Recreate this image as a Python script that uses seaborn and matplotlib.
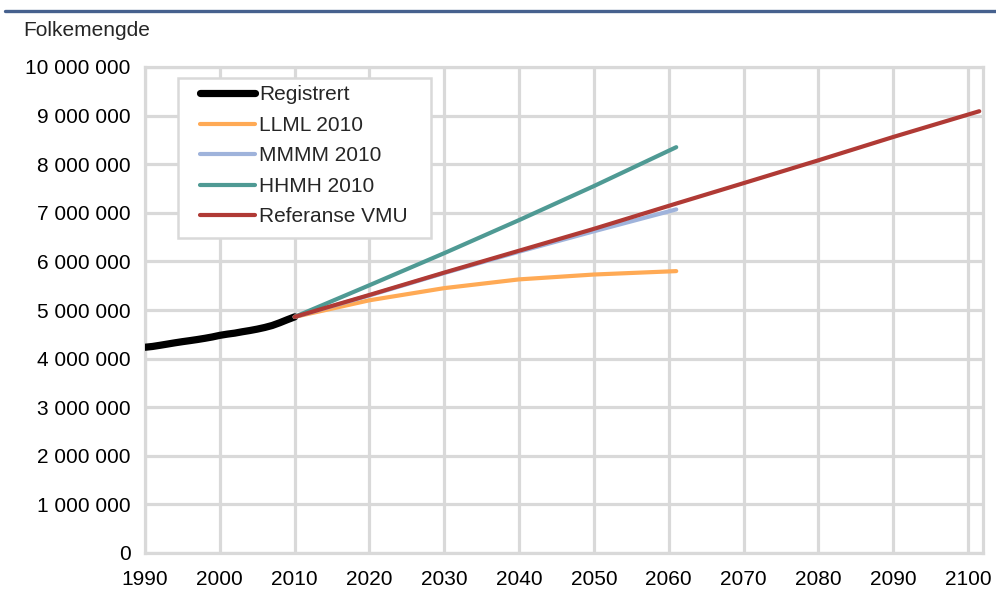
import matplotlib
matplotlib.use("Agg")
import matplotlib.pyplot as plt
from matplotlib.ticker import FuncFormatter, MultipleLocator
from matplotlib.lines import Line2D
from matplotlib.patches import Rectangle
import seaborn as sns
import pandas as pd

# ---- data ----
reg_years = [1990, 1991, 1992, 1993, 1994, 1995, 1996, 1997, 1998, 1999, 2000,
             2001, 2002, 2003, 2004, 2005, 2006, 2007, 2008, 2009, 2010]
reg_values = [4233116, 4249830, 4273634, 4299167, 4324815, 4348410, 4369957,
              4392714, 4417599, 4445329, 4478497, 4503436, 4524066, 4552252,
              4577457, 4606363, 4640219, 4681134, 4737171, 4799252, 4858199]

llml_years = [2010, 2020, 2030, 2040, 2050, 2061]
llml_values = [4858199, 5200000, 5450000, 5630000, 5730000, 5800000]
mmmm_years = [2010, 2020, 2030, 2040, 2050, 2061]
mmmm_values = [4858199, 5300000, 5760000, 6200000, 6620000, 7070000]
hhmh_years = [2010, 2020, 2030, 2040, 2050, 2061]
hhmh_values = [4858199, 5510000, 6170000, 6850000, 7550000, 8350000]
vmu_years = [2010, 2020, 2030, 2040, 2050, 2061, 2070, 2080, 2090, 2101.5]
vmu_values = [4858199, 5310000, 5770000, 6220000, 6670000, 7190000,
              7610000, 8080000, 8560000, 9090000]

labels = ["Registrert", "LLML 2010", "MMMM 2010", "HHMH 2010", "Referanse VMU"]
colors = ["#000000", "#FFAA55", "#9FB3DB", "#4F9A94", "#B03A35"]
widths = [5.2, 3.0, 3.0, 3.0, 3.0]

series = [
    (reg_years, reg_values),
    (llml_years, llml_values),
    (mmmm_years, mmmm_values),
    (hhmh_years, hhmh_values),
    (vmu_years, vmu_values),
]

# ---- plot ----
sns.set_style("white")
plt.rcParams["font.family"] = ["Liberation Sans", "DejaVu Sans"]
FS = 15

W, H = 996, 593
fig = plt.figure(figsize=(W / 100, H / 100), dpi=100)
ax = fig.add_axes([145 / W, 1 - 553 / H, (983 - 145) / W, (553 - 67) / H])

grid_c = "#D9D9D9"
for (xs, ys), lab, c, lw in zip(series, labels, colors, widths):
    df = pd.DataFrame({"x": xs, "y": ys})
    sns.lineplot(data=df, x="x", y="y", ax=ax, color=c, linewidth=lw,
                 solid_capstyle="round", legend=False, zorder=3)

ax.set_xlim(1990, 2102)
ax.set_ylim(0, 10_000_000)
ax.xaxis.set_major_locator(MultipleLocator(10))
ax.yaxis.set_major_locator(MultipleLocator(1_000_000))
ax.yaxis.set_major_formatter(FuncFormatter(lambda v, p: f"{int(round(v)):,}".replace(",", " ")))
ax.set_xlabel("")
ax.set_ylabel("")
ax.grid(True, color=grid_c, linewidth=2.3)
ax.set_axisbelow(True)
for s in ax.spines.values():
    s.set_visible(True)
    s.set_color(grid_c)
    s.set_linewidth(2.3)
ax.tick_params(axis="both", length=0, labelsize=FS, colors="#000000")
ax.tick_params(axis="y", pad=10.5)
ax.tick_params(axis="x", pad=12)

# legend box
fig.add_artist(Rectangle((178 / W, 1 - 238 / H), (431 - 178) / W, (238 - 78) / H,
                         transform=fig.transFigure, facecolor="white",
                         edgecolor=grid_c, linewidth=1.8, zorder=4))
handles = [Line2D([0], [0], color=c, linewidth=lw, solid_capstyle="round")
           for c, lw in zip(colors, widths)]
leg = fig.legend(handles, labels, loc="upper left",
                 bbox_to_anchor=(200 / W, 1 - 85.5 / H),
                 fontsize=FS, frameon=False,
                 handlelength=2.65, handletextpad=0.2, labelspacing=0.55,
                 borderpad=0, borderaxespad=0)
leg.set_zorder(5)

fig.text(23 / W, 1 - 36 / H, "Folkemengde", fontsize=FS, va="baseline", ha="left")
fig.add_artist(Line2D([5 / W, 1.0], [1 - 10.5 / H, 1 - 10.5 / H],
                      color="#46618E", linewidth=2.4, transform=fig.transFigure))

fig.savefig("out.png", dpi=100)
